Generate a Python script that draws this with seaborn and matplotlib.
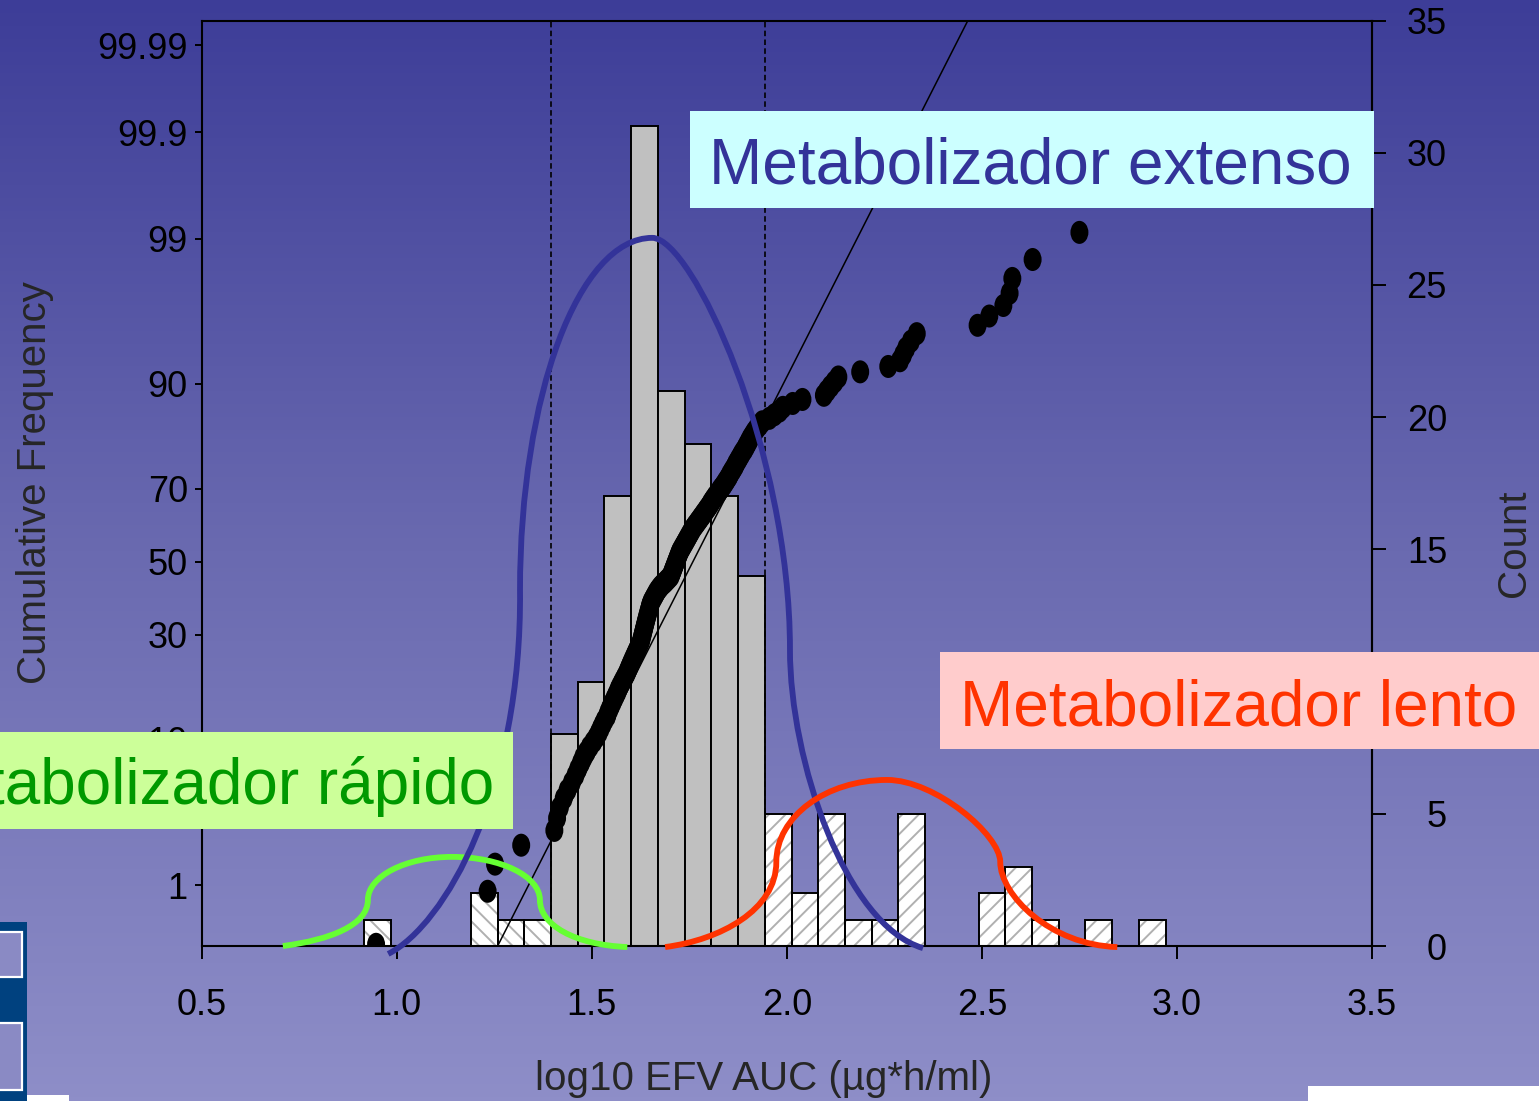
import math
from statistics import NormalDist

import numpy as np
import pandas as pd
import matplotlib
matplotlib.use("Agg")
import matplotlib.pyplot as plt
import seaborn as sns
from matplotlib.path import Path
from matplotlib.patches import PathPatch, Rectangle
from matplotlib.transforms import Affine2D
from matplotlib.markers import MarkerStyle
from matplotlib.colors import LinearSegmentedColormap

# ----------------------------------------------------------------- data
# histogram of log10 EFV AUC (count axis, right)
bin_start = 0.916
bin_width = 0.0685
bin_counts = [1, 0, 0, 0, 2, 1, 1, 8, 10, 17, 31, 21, 19, 17, 14,
              5, 2, 5, 1, 1, 5, 0, 0, 2, 3, 1, 0, 1, 0, 1]
extensive_first_bin = 7     # gray bars: bins 7..14
extensive_last_bin = 14

# individual subjects, sorted log10 AUC (cumulative-frequency dots)
log_auc_sorted = [
    0.947, 1.233, 1.252, 1.319, 1.404, 1.411, 1.418, 1.428, 1.438, 1.449,
    1.458, 1.465, 1.472, 1.478, 1.487, 1.495, 1.504, 1.512, 1.518, 1.523,
    1.528, 1.533, 1.539, 1.542, 1.546, 1.550, 1.554, 1.558, 1.562, 1.566,
    1.569, 1.573, 1.577, 1.581, 1.585, 1.589, 1.592, 1.595, 1.598, 1.601,
    1.604, 1.607, 1.610, 1.613, 1.616, 1.619, 1.622,
    1.625, 1.627, 1.628, 1.630, 1.631, 1.633, 1.634, 1.636, 1.637, 1.639,
    1.640, 1.642, 1.643, 1.645, 1.646, 1.648, 1.649, 1.651, 1.653,
    1.656, 1.659, 1.662, 1.665, 1.668, 1.672,
    1.676, 1.681, 1.687, 1.692, 1.697, 1.702,
    1.704, 1.706, 1.708, 1.710, 1.712, 1.714, 1.716, 1.718, 1.720, 1.722,
    1.724, 1.726,
    1.729, 1.732, 1.735, 1.738, 1.741, 1.744, 1.747, 1.750, 1.753, 1.756,
    1.759,
    1.763, 1.767, 1.771, 1.775, 1.779, 1.783, 1.787, 1.791, 1.795, 1.799,
    1.803,
    1.806, 1.810, 1.814, 1.818, 1.823, 1.827, 1.831, 1.836, 1.840, 1.844,
    1.848, 1.852, 1.855, 1.859, 1.863, 1.867, 1.870, 1.874, 1.878,
    1.882, 1.886, 1.891, 1.895, 1.899, 1.903, 1.907, 1.912,
    1.917, 1.923, 1.930, 1.937,
    1.955, 1.968, 1.981, 1.990, 2.015, 2.040,
    2.095, 2.103, 2.112, 2.122, 2.132,
    2.188, 2.260,
    2.290, 2.298, 2.306, 2.318, 2.333,
    2.489, 2.519, 2.555, 2.571, 2.578, 2.630, 2.750, 2.950,
]

# fitted normal (straight line on the probability scale)
fit_mean = 1.759
fit_sd = 0.181

# hand-drawn phenotype curves: cubic Bezier nodes (x = log10 AUC, y = count)
curve_rapid = [(0.708, 0.00), (0.829, 0.23), (0.926, 0.79), (0.926, 1.74),
               (0.926, 2.64), (1.023, 3.37), (1.142, 3.37),
               (1.266, 3.37), (1.367, 2.64), (1.367, 1.74),
               (1.367, 0.79), (1.457, 0.04), (1.591, -0.04)]
curve_extensive = [(0.978, -0.30), (1.124, 0.79), (1.321, 5.90), (1.316, 13.46),
                   (1.316, 20.82), (1.467, 26.78), (1.655, 26.78),
                   (1.757, 26.78), (2.008, 18.76), (2.008, 11.20),
                   (2.008, 7.03), (2.150, 0.79), (2.349, -0.08)]
curve_slow = [(1.688, -0.04), (1.829, 0.23), (1.973, 1.36), (1.973, 3.18),
              (1.973, 4.89), (2.100, 6.28), (2.257, 6.28),
              (2.380, 6.28), (2.547, 4.20), (2.547, 3.18),
              (2.547, 1.93), (2.675, 0.04), (2.847, -0.04)]

# axes
x_ticks = [0.5, 1.0, 1.5, 2.0, 2.5, 3.0, 3.5]
x_tick_labels = ["0.5", "1.0", "1.5", "2.0", "2.5", "3.0", "3.5"]
pct_ticks = [1, 10, 30, 50, 70, 90, 99, 99.9, 99.99]
pct_tick_labels = ["1", "10", "30", "50", "70", "90", "99", "99.9", "99.99"]
pct_limits = (0.285, 99.9951)
count_ticks = [0, 5, 10, 15, 20, 25, 30, 35]
count_tick_labels = ["0", "5", "10", "15", "20", "25", "30", "35"]

label_extensive = "Metabolizador extenso"
label_slow = "Metabolizador lento"
label_rapid = "Metabolizador rápido"

# ----------------------------------------------------------------- style
sns.set_style("ticks")
plt.rcParams["font.family"] = ["Liberation Sans", "DejaVu Sans"]
plt.rcParams["hatch.linewidth"] = 1.4
plt.rcParams["axes.linewidth"] = 1.5

W, H = 1539, 1101
DPI = 100
fig = plt.figure(figsize=(W / DPI, H / DPI), dpi=DPI)

def fx(px):
    return px / W

def fy(py):
    return 1 - py / H

# background gradient
bg = fig.add_axes([0, 0, 1, 1], zorder=-10)
grad = np.linspace(0, 1, 256).reshape(-1, 1)
cmap = LinearSegmentedColormap.from_list("slide", ["#8E8EC8", "#6A6AB0", "#3D3D98"])
bg.imshow(grad, aspect="auto", cmap=cmap, extent=[0, 1, 0, 1], origin="lower")
bg.axis("off")

# normal-probability scale
_nd = NormalDist()
_ppf = np.vectorize(lambda p: _nd.inv_cdf(min(max(p, 1e-12), 1 - 1e-12)), otypes=[float])
_cdf = np.vectorize(_nd.cdf, otypes=[float])

def pct_to_z(p):
    return _ppf(np.asarray(p, dtype=float) / 100.0)

def z_to_pct(z):
    return _cdf(np.asarray(z, dtype=float)) * 100.0

left, right, top, bottom = 201.7, 1372.0, 20.5, 946.0
ax = fig.add_axes([fx(left), fy(bottom), (right - left) / W, (bottom - top) / H])
ax2 = ax.twinx()
ax.set_zorder(2)
ax2.set_zorder(1)
ax.patch.set_visible(False)
ax2.patch.set_visible(False)

# ----------------------------------------------------------------- histogram
n_bins = len(bin_counts)
edges = [float(e) for e in bin_start + bin_width * np.arange(n_bins + 1)]
centers = [(edges[i] + edges[i + 1]) / 2 for i in range(n_bins)]
hist = pd.DataFrame({"center": centers, "count": bin_counts,
                     "idx": np.arange(n_bins)})
is_ext = (hist["idx"] >= extensive_first_bin) & (hist["idx"] <= extensive_last_bin)
left_df = hist[(hist["idx"] < extensive_first_bin) & (hist["count"] > 0)]
mid_df = hist[is_ext]
right_df = hist[(hist["idx"] > extensive_last_bin) & (hist["count"] > 0)]

for df, hatch in ((left_df, "\\\\"), (right_df, "//")):
    sns.histplot(data=df, x="center", weights="count", bins=edges, ax=ax2,
                 color="white", edgecolor="#B0B0B0", hatch=hatch, alpha=1,
                 linewidth=0)
    sns.histplot(data=df, x="center", weights="count", bins=edges, ax=ax2,
                 fill=False, color="black", linewidth=1.4)
sns.histplot(data=mid_df, x="center", weights="count", bins=edges, ax=ax2,
             color="#C0C0C0", edgecolor="black", alpha=1, linewidth=1.4)

ax2.set_ylim(0, 35)
ax2.set_yticks(count_ticks)
ax2.set_yticklabels(count_tick_labels, ha="right")
ax2.tick_params(axis="y", direction="out", length=10, width=1.4, pad=44,
                labelsize=26, colors="black")
ax2.set_ylabel("Count", fontsize=29)
ax2.yaxis.set_label_coords(fx(1525), fy(543), transform=fig.transFigure)
ax2.yaxis.label.set_rotation(90)
ax2.yaxis.label.set_va("baseline")
ax2.yaxis.label.set_ha("center")
ax2.yaxis.label.set_rotation_mode("anchor")
for s in ("left", "top", "bottom"):
    ax2.spines[s].set_visible(False)

# ----------------------------------------------------------------- probability plot
ax.set_yscale("function", functions=(pct_to_z, z_to_pct))
ax.set_xlim(0.5, 3.5)
ax.set_ylim(*pct_limits)

# group boundaries
for b in (edges[extensive_first_bin], edges[extensive_last_bin + 1]):
    ax.axvline(b, color="black", lw=1.2, ls=(0, (3.3, 2.0)), zorder=2)

# fitted normal line
z_lim = pct_to_z(pct_limits)
sns.lineplot(x=fit_mean + fit_sd * z_lim, y=list(pct_limits), ax=ax,
             color="black", lw=1.1, zorder=3)

# cumulative frequency dots
n = len(log_auc_sorted)
cum_pct = (np.arange(1, n + 1) - 0.5) / n * 100
dots = pd.DataFrame({"auc": log_auc_sorted, "pct": cum_pct})
ellipse = MarkerStyle(Path.unit_circle().transformed(Affine2D().scale(0.78, 1.0)))
sns.scatterplot(data=dots, x="auc", y="pct", ax=ax, marker=ellipse, s=275,
                color="black", edgecolor="none", linewidth=0, zorder=4)

# phenotype curves
codes = [Path.MOVETO] + [Path.CURVE4] * 12
for pts, col in ((curve_rapid, "#66FF33"), (curve_extensive, "#333399"),
                 (curve_slow, "#FF3300")):
    patch = PathPatch(Path(pts, codes), transform=ax2.transData, facecolor="none",
                      edgecolor=col, lw=4.2, zorder=5, clip_on=False,
                      capstyle="butt")
    ax.add_patch(patch)

ax.set_xticks(x_ticks)
ax.set_xticklabels(x_tick_labels)
ax.set_yticks(pct_ticks)
ax.set_yticklabels(pct_tick_labels)
ax.yaxis.set_minor_locator(matplotlib.ticker.NullLocator())
ax.tick_params(axis="y", direction="out", length=5, width=1.4, pad=5,
               labelsize=26, colors="black")
ax.tick_params(axis="x", direction="out", length=9, width=1.4, pad=21,
               labelsize=26, colors="black")
for s in ax.spines.values():
    s.set_color("black")
    s.set_linewidth(1.5)

ax.set_xlabel("log10 EFV AUC (µg*h/ml)", fontsize=29)
ax.xaxis.set_label_coords(fx(763.5), fy(1090), transform=fig.transFigure)
ax.xaxis.label.set_va("baseline")
ax.set_ylabel("Cumulative Frequency", fontsize=29)
ax.yaxis.set_label_coords(fx(46.5), fy(482.5), transform=fig.transFigure)
ax.yaxis.label.set_va("baseline")
ax.yaxis.label.set_rotation_mode("anchor")

# ----------------------------------------------------------------- callout boxes
def box(x0, y0, x1, y1, color):
    fig.add_artist(Rectangle((fx(x0), fy(y1)), (x1 - x0) / W, (y1 - y0) / H,
                             transform=fig.transFigure, facecolor=color,
                             edgecolor="none", zorder=10))

box(690, 111, 1374, 207.5, "#CCFFFF")
fig.text(fx(709), fy(183.5), label_extensive, fontsize=46, color="#333399",
         ha="left", va="baseline", zorder=11)
box(940, 652, 1545, 749, "#FFCCCC")
fig.text(fx(960), fy(725), label_slow, fontsize=46, color="#FF3300",
         ha="left", va="baseline", zorder=11)
box(-5, 732, 512.7, 828.5, "#CCFF99")
fig.text(fx(494), fy(804), label_rapid, fontsize=46, color="#009900",
         ha="right", va="baseline", zorder=11)

# slide decorations at the bottom corners
box(-5, 922, 27, 1106, "#00417F")
for (y0, y1) in ((931.7, 976.7), (1023, 1090)):
    fig.add_artist(Rectangle((fx(-5), fy(y1)), 27 / W, (y1 - y0) / H,
                             transform=fig.transFigure, facecolor="#8A8AC4",
                             edgecolor="white", lw=1.6, zorder=10.5))
box(27, 1095, 69, 1106, "white")
box(1308, 1085.7, 1545, 1106, "white")

fig.savefig("out.png", dpi=DPI)
